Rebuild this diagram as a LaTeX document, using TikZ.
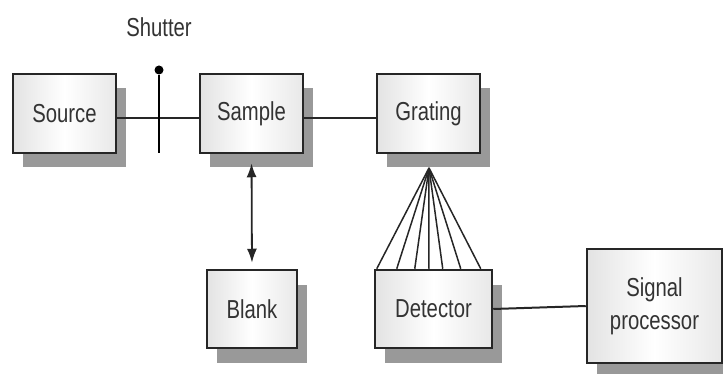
\documentclass[tikz,border=0pt]{standalone}
\usepackage{fontspec}
\usepackage{graphicx}
\setmainfont{Liberation Sans}
\usetikzlibrary{shadows,arrows.meta,calc}
\definecolor{edge}{HTML}{262626}
\definecolor{txt}{HTML}{333333}
\definecolor{shad}{HTML}{999999}
\newcommand\sq[1]{\scalebox{0.78}[1]{#1}}
\begin{document}
\begin{tikzpicture}[x=1pt,y=-1pt,
  blockbox/.style={draw=edge, line width=2.5pt, left color=gray!22, right color=gray!18, middle color=white,
    text=txt, font=\fontsize{26}{34}\selectfont, inner sep=0pt, align=center,
    general shadow={fill=shad, shadow xshift=9.5pt, shadow yshift=-14.5pt}},
  conn/.style={draw=edge, line width=2pt},
  fan/.style={draw=edge, line width=1.5pt}]
\useasboundingbox (0,0) rectangle (723,374);
\coordinate (apex) at (429,168);
\node[blockbox, minimum width=103pt, minimum height=79pt] (src) at (64.5,113.5) {\sq{Source}};
\node[blockbox, minimum width=103pt, minimum height=79pt] (smp) at (251.5,113.5) {\sq{Sample}};
\node[blockbox, minimum width=103pt, minimum height=79pt] (grt) at (428.5,113.5) {\sq{Grating}};
\node[blockbox, minimum width=90pt, minimum height=78pt] (blk) at (252,309) {\sq{Blank}};
\node[blockbox, minimum width=117pt, minimum height=78pt] (det) at (433.5,309) {\sq{Detector}};
\node[blockbox, minimum width=135pt, minimum height=114pt] (sig) at (654.5,306) {\sq{Signal}\\[-1pt]\sq{processor}};
% main connectors
\draw[conn] ([yshift=-4.5pt]src.east) -- ([yshift=-4.5pt]smp.west);
\draw[conn] ([yshift=-4.5pt]smp.east) -- ([yshift=-4.5pt]grt.west);
\draw[conn] (det.east) -- (sig.west);
% shutter
\node[circle, fill=black, inner sep=0pt, minimum size=9pt] (dot) at (159,70) {};
\coordinate (shb) at (159,153);
\draw[draw=black, line width=2.2pt] (dot) -- (shb);
\node[text=txt, font=\fontsize{26}{30}\selectfont] (shl) at (159,27) {\sq{Shutter}};
% fan from grating to detector
\foreach \dx in {3,23,41,55,69,87,107} {
  \draw[fan] (apex) -- ([xshift=\dx pt]det.north west);
}
% sample <-> blank
\draw[draw=edge, line width=1.8pt, {Latex[length=14pt,width=10pt]}-{Latex[length=14pt,width=10pt]}, shorten <=9pt, shorten >=6pt] (smp.south) -- (blk.north);
\end{tikzpicture}
\end{document}
